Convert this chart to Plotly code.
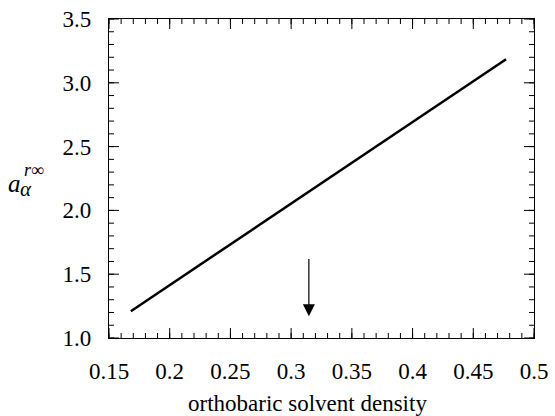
import plotly.graph_objects as go

density = [0.168, 0.477]
a_alpha = [1.21, 3.185]
arrow_x = 0.3146
arrow_y_top = 1.63
arrow_y_tip = 1.17
x_ticks = [0.15, 0.2, 0.25, 0.3, 0.35, 0.4, 0.45, 0.5]
x_tick_labels = ["0.15", "0.2", "0.25", "0.3", "0.35", "0.4", "0.45", "0.5"]
y_ticks = [1.0, 1.5, 2.0, 2.5, 3.0, 3.5]
y_tick_labels = ["1.0", "1.5", "2.0", "2.5", "3.0", "3.5"]
x_range = [0.15, 0.5]
y_range = [1.0, 3.5]
x_minor_ticks = [round(0.15 + 0.01 * i, 2) for i in range(36)]
y_minor_ticks = [round(1.0 + 0.1 * i, 1) for i in range(26)]

FONT = "Liberation Serif, Times New Roman, serif"
L, R, T, B = 109, 21, 19, 78
W, H = 555, 416
pw, ph = W - L - R, H - T - B
MAJOR_LEN, MINOR_LEN = 10, 5

def px(p):
    return (p - L) / pw

def py(p):
    return (H - B - p) / ph

fig = go.Figure()
fig.add_trace(go.Scatter(x=density, y=a_alpha, mode="lines",
                         line=dict(color="black", width=2.5),
                         showlegend=False, hoverinfo="skip"))

fig.update_layout(
    width=W, height=H, margin=dict(l=L, r=R, t=T, b=B, autoexpand=False),
    paper_bgcolor="white", plot_bgcolor="white",
    font=dict(family=FONT, color="black"),
    xaxis=dict(range=x_range, tickmode="array", tickvals=x_ticks, ticktext=x_tick_labels,
               ticks="", showline=True, linecolor="black", linewidth=1.2, mirror=True,
               showgrid=False, zeroline=False,
               tickfont=dict(family=FONT, size=23, color="black"), ticklabelstandoff=12),
    yaxis=dict(range=y_range, tickmode="array", tickvals=y_ticks, ticktext=y_tick_labels,
               ticks="", showline=True, linecolor="black", linewidth=1.2, mirror=True,
               showgrid=False, zeroline=False,
               tickfont=dict(family=FONT, size=23, color="black"), ticklabelstandoff=12),
)

tick_line = dict(color="black", width=1)
shapes = []
for vals, ln in ((x_minor_ticks, MINOR_LEN), (x_ticks, MAJOR_LEN)):
    for t in vals:
        shapes.append(dict(type="line", xref="x", yref="paper", ysizemode="pixel",
                           yanchor=0, x0=t, x1=t, y0=0, y1=ln, line=tick_line))
        shapes.append(dict(type="line", xref="x", yref="paper", ysizemode="pixel",
                           yanchor=1, x0=t, x1=t, y0=0, y1=-ln, line=tick_line))
for vals, ln in ((y_minor_ticks, MINOR_LEN), (y_ticks, MAJOR_LEN)):
    for t in vals:
        shapes.append(dict(type="line", xref="paper", yref="y", xsizemode="pixel",
                           xanchor=0, y0=t, y1=t, x0=0, x1=ln, line=tick_line))
        shapes.append(dict(type="line", xref="paper", yref="y", xsizemode="pixel",
                           xanchor=1, y0=t, y1=t, x0=0, x1=-ln, line=tick_line))
fig.update_layout(shapes=shapes)

fig.add_annotation(x=arrow_x, y=arrow_y_tip, ax=arrow_x, ay=arrow_y_top,
                   xref="x", yref="y", axref="x", ayref="y",
                   showarrow=True, arrowhead=2, arrowsize=2, arrowwidth=1.2,
                   arrowcolor="black", text="")

fig.add_annotation(x=px(307), y=(H - B - 403) / ph, xref="paper", yref="paper",
                   xanchor="center", yanchor="middle", showarrow=False,
                   text="orthobaric solvent density",
                   font=dict(family=FONT, size=23, color="black"))

fig.add_annotation(x=px(6), y=py(184), xref="paper", yref="paper",
                   xanchor="left", yanchor="middle", showarrow=False,
                   text="<i>a</i>", font=dict(family=FONT, size=25, color="black"))
fig.add_annotation(x=px(18), y=py(189), xref="paper", yref="paper",
                   xanchor="left", yanchor="middle", showarrow=False,
                   text="<i>α</i>", font=dict(family=FONT, size=21, color="black"))
fig.add_annotation(x=px(22), y=py(170), xref="paper", yref="paper",
                   xanchor="left", yanchor="middle", showarrow=False,
                   text="<i>r</i>∞", font=dict(family=FONT, size=18, color="black"))

fig.write_html("out.html")
